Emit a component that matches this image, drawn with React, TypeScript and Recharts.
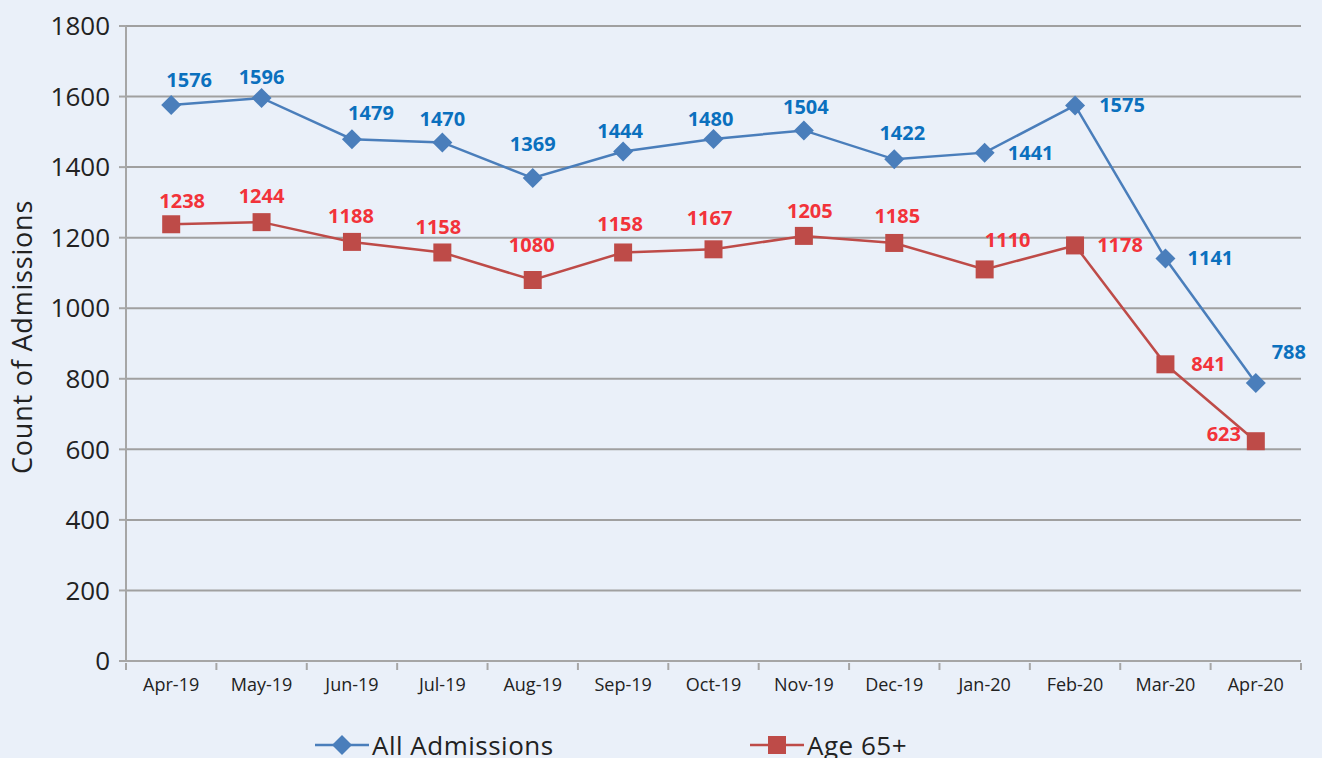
import React from "react";
import { ComposedChart, Line, XAxis, YAxis, CartesianGrid, LabelList } from "recharts";

const months = ["Apr-19", "May-19", "Jun-19", "Jul-19", "Aug-19", "Sep-19", "Oct-19", "Nov-19", "Dec-19", "Jan-20", "Feb-20", "Mar-20", "Apr-20"];
const allAdmissions = [1576, 1596, 1479, 1470, 1369, 1444, 1480, 1504, 1422, 1441, 1575, 1141, 788];
const age65 = [1238, 1244, 1188, 1158, 1080, 1158, 1167, 1205, 1185, 1110, 1178, 841, 623];
const yTicks = [0, 200, 400, 600, 800, 1000, 1200, 1400, 1600, 1800];

// label placement relative to each point [dx, dy]
const allOffsets: [number, number][] = [
  [18, -25], [0, -21], [19, -26], [0, -23], [0, -34], [-3, -21], [-3, -20],
  [2, -23], [8, -26], [46, 0], [47, 0], [45, 0], [33, -31],
];
const ageOffsets: [number, number][] = [
  [11, -23], [0, -26], [-1, -26], [-4, -25], [-1, -35], [-3, -28], [-4, -31],
  [6, -25], [3, -27], [23, -29], [45, 0], [43, 0], [-32, -7],
];

const data = months.map((m, i) => ({ month: m, all: allAdmissions[i], age: age65[i] }));

const BLUE = "#4a7ebb";
const RED = "#be4b48";
const BLUE_TXT = "#0b70be";
const RED_TXT = "#f2333a";
const AXIS = "#a6a6a6";
const FONT = "'Open Sans', sans-serif";

const makeLabel = (offsets: [number, number][], color: string) => (props: any) => {
  const { x, y, value, index } = props;
  const [dx, dy] = offsets[index];
  return (
    <text x={x + dx} y={y + dy} dy="0.35em" textAnchor="middle" fill={color}
      fontSize={20} fontWeight={700} fontFamily={FONT}>
      {value}
    </text>
  );
};

const Diamond = (props: any) => {
  const { cx, cy } = props;
  if (cx == null || cy == null) return null;
  const r = 10;
  return <path d={`M${cx},${cy - r}L${cx + r},${cy}L${cx},${cy + r}L${cx - r},${cy}Z`} fill={BLUE} />;
};

const Square = (props: any) => {
  const { cx, cy } = props;
  if (cx == null || cy == null) return null;
  const s = 9;
  return <rect x={cx - s} y={cy - s} width={s * 2} height={s * 2} fill={RED} />;
};

// month label centred in its band, tick marks on the band edges
const MonthTick = (props: any) => {
  const { x, y, payload, index, width, visibleTicksCount } = props;
  const half = width / visibleTicksCount / 2;
  const top = y - 4;
  return (
    <g>
      <line x1={x - half} y1={top} x2={x - half} y2={top + 7} stroke={AXIS} strokeWidth={2} />
      {index === visibleTicksCount - 1 && (
        <line x1={x + half} y1={top} x2={x + half} y2={top + 7} stroke={AXIS} strokeWidth={2} />
      )}
      <text x={x} y={y + 24} textAnchor="middle" fill="#222" fontSize={18} fontFamily={FONT}>
        {payload.value}
      </text>
    </g>
  );
};

const YLabel = () => (
  <text x={21} y={337} transform="rotate(-90 21 337)" textAnchor="middle" dominantBaseline="central"
    fontSize={27} letterSpacing={0.8} fill="#222" fontFamily={FONT}>
    Count of Admissions
  </text>
);

export default function App() {
  return (
    <div style={{ position: "absolute", left: 0, top: 0, width: 1322, height: 758, background: "#eaf0f9", overflow: "hidden", fontFamily: FONT }}>
      <ComposedChart width={1322} height={758} data={data} margin={{ top: 26, right: 21, bottom: 0, left: 0 }}>
        <CartesianGrid vertical={false} stroke="#a0a0a0" strokeWidth={2} />
        <XAxis dataKey="month" scale="band" height={97} axisLine={{ stroke: AXIS, strokeWidth: 2 }}
          tickLine={false} tickSize={4} interval={0} tick={<MonthTick />} />
        <YAxis domain={[0, 1800]} ticks={yTicks} width={126} tickSize={7} tickMargin={9}
          axisLine={{ stroke: AXIS, strokeWidth: 2 }} tickLine={{ stroke: AXIS, strokeWidth: 2 }}
          tick={{ fill: "#222", fontSize: 26, fontFamily: FONT }} label={<YLabel />} />
        <Line dataKey="all" stroke={BLUE} strokeWidth={2.5} dot={<Diamond />} activeDot={false} isAnimationActive={false}>
          <LabelList dataKey="all" content={makeLabel(allOffsets, BLUE_TXT)} />
        </Line>
        <Line dataKey="age" stroke={RED} strokeWidth={2.5} dot={<Square />} activeDot={false} isAnimationActive={false}>
          <LabelList dataKey="age" content={makeLabel(ageOffsets, RED_TXT)} />
        </Line>
      </ComposedChart>
      <div style={{ position: "absolute", left: 315, top: 728, height: 34, display: "flex", alignItems: "center", fontSize: 26, color: "#222", whiteSpace: "nowrap" }}>
        <svg width={54} height={24}>
          <line x1={0} y1={12} x2={54} y2={12} stroke={BLUE} strokeWidth={2.5} />
          <path d="M27,2L37,12L27,22L17,12Z" fill={BLUE} />
        </svg>
        <span style={{ marginLeft: 3, letterSpacing: 0.5 }}>All Admissions</span>
      </div>
      <div style={{ position: "absolute", left: 750, top: 728, height: 34, display: "flex", alignItems: "center", fontSize: 26, color: "#222", whiteSpace: "nowrap" }}>
        <svg width={54} height={24}>
          <line x1={0} y1={12} x2={54} y2={12} stroke={RED} strokeWidth={2.5} />
          <rect x={18} y={3} width={18} height={18} fill={RED} />
        </svg>
        <span style={{ marginLeft: 3, letterSpacing: 0.5 }}>Age 65+</span>
      </div>
    </div>
  );
}
